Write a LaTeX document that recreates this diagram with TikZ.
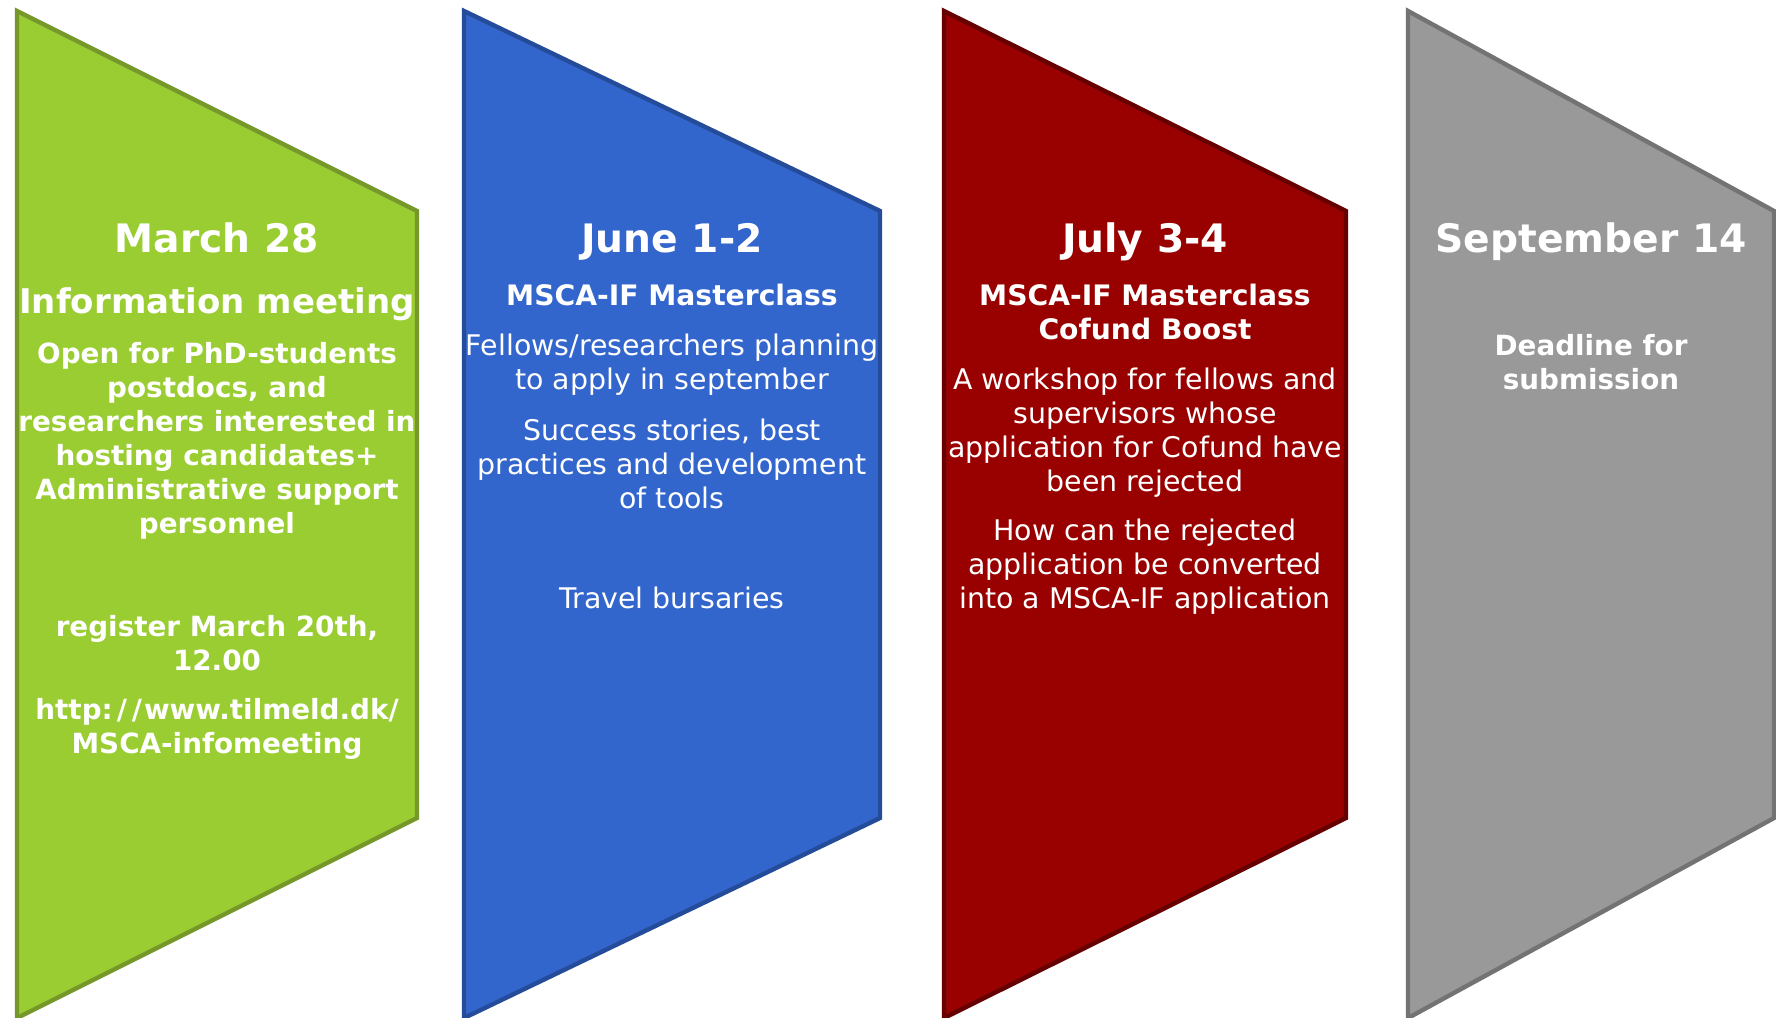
\documentclass[tikz,border=0pt]{standalone}
\usepackage{fontspec}
\setmainfont{DejaVu Sans}
\definecolor{gfill}{HTML}{9ACD32}
\definecolor{gline}{HTML}{76982A}
\definecolor{bfill}{HTML}{3366CC}
\definecolor{bline}{HTML}{254C9A}
\definecolor{rfill}{HTML}{990000}
\definecolor{rline}{HTML}{660000}
\definecolor{yfill}{HTML}{999999}
\definecolor{yline}{HTML}{737373}
\tikzset{
  panel/.style={line width=2.2pt},
  txt/.style={text=white, align=center, inner sep=0pt},
  head/.style={txt, font=\bfseries\fontsize{19.6}{24}\selectfont},
  sub/.style={txt, font=\bfseries\fontsize{17}{17}\selectfont},
  subs/.style={txt, font=\bfseries\fontsize{14.1}{17}\selectfont},
  bodyb/.style={txt, font=\bfseries\fontsize{13.9}{17}\selectfont},
  body/.style={txt, font=\fontsize{14.2}{17}\selectfont},
}
\begin{document}
\begin{tikzpicture}[x=0.5pt,y=-0.5pt]
\useasboundingbox (0,0) rectangle (1776,1017);
% panels
\draw[panel, fill=gfill, draw=gline] (17,11) -- (417,211) -- (417,818) -- (17,1018) -- cycle;
\draw[panel, fill=bfill, draw=bline] (464,11) -- (880,211) -- (880,818) -- (464,1018) -- cycle;
\draw[panel, fill=rfill, draw=rline] (944,11) -- (1346,211) -- (1346,818) -- (944,1018) -- cycle;
\draw[panel, fill=yfill, draw=yline] (1408,11) -- (1774,211) -- (1774,818) -- (1408,1018) -- cycle;
% green
\node[head] (g1) at (217,238) {March 28};
\node[sub] (g2) at (217,304) {Information meeting};
\node[bodyb] (g3) at (217,441) {Open for PhD-students\\postdocs, and\\researchers interested in\\hosting candidates+\\Administrative support\\personnel};
\node[bodyb] (g4) at (217,643) {register March 20th,\\12.00};
\node[bodyb] (g5) at (217,729) {http:\kern2pt/\kern2.5pt/\kern1pt www.tilmeld.dk/\\MSCA-infomeeting};
% blue
\node[head] (b1) at (672,242) {June 1-2};
\node[subs] (b2) at (672,294.5) {MSCA-IF Masterclass};
\node[body] (b3) at (672,364.5) {Fellows/researchers planning\\to apply in september};
\node[body] (b4) at (672,464) {Success stories, best\\practices and development\\of tools};
\node[body] (b5) at (672,598) {Travel bursaries};
% red
\node[head] (r1) at (1145,242) {July 3-4};
\node[subs] (r2) at (1145,311.5) {MSCA-IF Masterclass\\Cofund Boost};
\node[body] (r3) at (1145,432.5) {A workshop for fellows and\\supervisors whose\\application for Cofund have\\been rejected};
\node[body] (r4) at (1145,567) {How can the rejected\\application be converted\\into a MSCA-IF application};
% grey
\node[head] (y1) at (1591,242) {September 14};
\node[bodyb] (y2) at (1591,362.5) {Deadline for\\submission};
\end{tikzpicture}
\end{document}
